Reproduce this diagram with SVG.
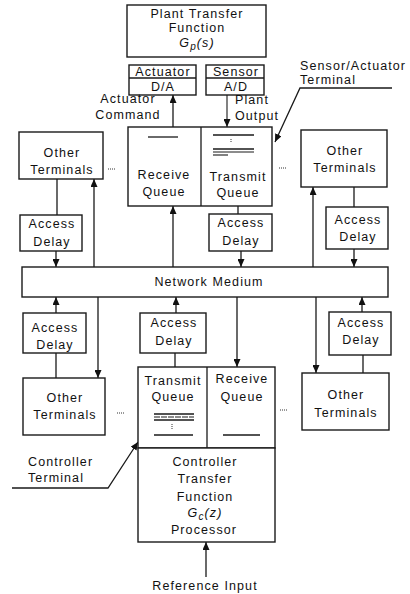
<svg xmlns="http://www.w3.org/2000/svg" width="410" height="594" viewBox="0 0 410 594">
<defs>
<style>
.box{fill:#fff;stroke:#1a1a1a;stroke-width:1.4}
.ln{fill:none;stroke:#1a1a1a;stroke-width:1.3}
.thin{fill:none;stroke:#1a1a1a;stroke-width:1.1}
.t{font-family:"Liberation Sans",Arial,Helvetica,sans-serif;font-size:12.5px;letter-spacing:1.1px;fill:#111;text-anchor:middle}
.s{text-anchor:start}
.dots{stroke:#333;stroke-width:1;stroke-dasharray:1 1}
</style>
<marker id="ah" viewBox="0 0 8 7" refX="8" refY="3.5" markerWidth="8" markerHeight="7" markerUnits="userSpaceOnUse" orient="auto">
<path d="M0,0 L8,3.5 L0,7 z" fill="#111"/>
</marker>
</defs>
<rect width="410" height="594" fill="#fff"/>

<g id="connectors">
<line class="ln" x1="173" y1="127" x2="173" y2="95" marker-end="url(#ah)"/>
<line class="thin" x1="227" y1="95" x2="227" y2="127" marker-end="url(#ah)"/>
<polyline class="ln" points="392,88 300,88 275,142" marker-end="url(#ah)"/>
<line class="ln" x1="57" y1="179" x2="57" y2="215"/>
<line class="ln" x1="56" y1="251" x2="56" y2="267" marker-end="url(#ah)"/>
<line class="ln" x1="94" y1="267" x2="94" y2="179" marker-end="url(#ah)"/>
<line class="ln" x1="238" y1="206" x2="238" y2="214"/>
<line class="ln" x1="241" y1="251" x2="241" y2="267" marker-end="url(#ah)"/>
<line class="ln" x1="173" y1="267" x2="173" y2="206" marker-end="url(#ah)"/>
<line class="ln" x1="354" y1="187" x2="354" y2="207"/>
<line class="ln" x1="354" y1="249" x2="354" y2="267" marker-end="url(#ah)"/>
<line class="ln" x1="313" y1="267" x2="313" y2="187" marker-end="url(#ah)"/>
<line class="ln" x1="56" y1="313" x2="56" y2="297" marker-end="url(#ah)"/>
<line class="ln" x1="56" y1="353" x2="56" y2="378"/>
<line class="ln" x1="98" y1="297" x2="98" y2="378" marker-end="url(#ah)"/>
<line class="ln" x1="176" y1="313" x2="176" y2="297" marker-end="url(#ah)"/>
<line class="ln" x1="175" y1="353" x2="175" y2="367"/>
<line class="ln" x1="237" y1="297" x2="237" y2="367" marker-end="url(#ah)"/>
<line class="ln" x1="362" y1="312" x2="362" y2="297" marker-end="url(#ah)"/>
<line class="ln" x1="363" y1="355" x2="363" y2="373"/>
<line class="ln" x1="316" y1="297" x2="316" y2="373" marker-end="url(#ah)"/>
<polyline class="thin" points="167,529 149,529 149,449" marker-end="url(#ah)"/>
<polyline class="thin" points="262,449 262,529 240,529" marker-end="url(#ah)"/>
<line class="ln" x1="206" y1="577" x2="206" y2="542" marker-end="url(#ah)"/>
<polyline class="ln" points="12,488 108,488 138,442" marker-end="url(#ah)"/>
<line class="dots" x1="108" y1="169" x2="116" y2="169"/>
<line class="dots" x1="279" y1="168" x2="287" y2="168"/>
<line class="dots" x1="117" y1="413" x2="125" y2="413"/>
<line class="dots" x1="280" y1="410" x2="288" y2="410"/>
</g>

<g id="plant">
<rect class="box" x="127" y="5" width="139" height="52"/>
<text class="t" x="197" y="18">Plant Transfer</text>
<text class="t" x="197" y="32">Function</text>
<text class="t" x="197" y="47" font-style="italic">G<tspan font-size="10" dy="3">p</tspan><tspan dy="-3">(s)</tspan></text>
</g>

<g id="actuator">
<rect class="box" x="129" y="65" width="67" height="30"/>
<line class="ln" x1="129" y1="78" x2="196" y2="78"/>
<text class="t" x="163" y="76">Actuator</text>
<text class="t" x="163" y="91">D/A</text>
</g>

<g id="sensor">
<rect class="box" x="206" y="65" width="58" height="30"/>
<line class="ln" x1="206" y1="78" x2="264" y2="78"/>
<text class="t" x="236" y="76">Sensor</text>
<text class="t" x="236" y="91">A/D</text>
</g>

<g id="labels">
<text class="t" x="128" y="103">Actuator</text>
<text class="t" x="128" y="119">Command</text>
<text class="t s" x="235" y="104">Plant</text>
<text class="t s" x="235" y="120">Output</text>
<text class="t s" x="300" y="70">Sensor/Actuator</text>
<text class="t s" x="300" y="84">Terminal</text>
<text class="t s" x="28" y="466">Controller</text>
<text class="t s" x="28" y="482">Terminal</text>
<text class="t" x="205" y="590">Reference Input</text>
</g>

<g id="sa-terminal">
<rect class="box" x="128" y="127" width="144" height="79"/>
<line class="ln" x1="201" y1="127" x2="201" y2="206"/>
<line class="ln" x1="148" y1="137" x2="178" y2="137"/>
<text class="t" x="164" y="179">Receive</text>
<text class="t" x="164" y="196">Queue</text>
<line class="ln" x1="213" y1="135" x2="254" y2="135"/>
<line class="dots" x1="231" y1="139" x2="231" y2="143"/>
<line class="ln" x1="213" y1="149" x2="254" y2="149"/>
<line class="thin" x1="213" y1="152" x2="254" y2="152"/>
<line class="thin" x1="213" y1="155" x2="228" y2="155"/>
<text class="t" x="238" y="181">Transmit</text>
<text class="t" x="238" y="197">Queue</text>
</g>

<g id="other-tl">
<rect class="box" x="19" y="132" width="84" height="47"/>
<text class="t" x="62" y="157">Other</text>
<text class="t" x="62" y="174">Terminals</text>
</g>
<g id="ad-tl">
<rect class="box" x="20" y="215" width="62" height="36"/>
<text class="t" x="52" y="228">Access</text>
<text class="t" x="52" y="246">Delay</text>
</g>
<g id="ad-tm">
<rect class="box" x="209" y="214" width="63" height="37"/>
<text class="t" x="241" y="227">Access</text>
<text class="t" x="241" y="245">Delay</text>
</g>
<g id="other-tr">
<rect class="box" x="301" y="130" width="86" height="57"/>
<text class="t" x="345" y="155">Other</text>
<text class="t" x="345" y="172">Terminals</text>
</g>
<g id="ad-tr">
<rect class="box" x="326" y="207" width="62" height="42"/>
<text class="t" x="358" y="224">Access</text>
<text class="t" x="358" y="241">Delay</text>
</g>

<g id="network">
<rect class="box" x="22" y="267" width="366" height="30"/>
<text class="t" x="209" y="286">Network Medium</text>
</g>

<g id="ad-bl">
<rect class="box" x="23" y="313" width="63" height="40"/>
<text class="t" x="55" y="332">Access</text>
<text class="t" x="55" y="349">Delay</text>
</g>
<g id="other-bl">
<rect class="box" x="23" y="378" width="82" height="57"/>
<text class="t" x="65" y="402">Other</text>
<text class="t" x="65" y="419">Terminals</text>
</g>
<g id="ad-bm">
<rect class="box" x="140" y="313" width="66" height="40"/>
<text class="t" x="174" y="327">Access</text>
<text class="t" x="174" y="345">Delay</text>
</g>
<g id="ad-br">
<rect class="box" x="329" y="312" width="62" height="43"/>
<text class="t" x="361" y="327">Access</text>
<text class="t" x="361" y="344">Delay</text>
</g>
<g id="other-br">
<rect class="box" x="302" y="373" width="87" height="57"/>
<text class="t" x="346" y="399">Other</text>
<text class="t" x="346" y="417">Terminals</text>
</g>

<g id="controller-terminal">
<rect class="box" x="138" y="367" width="137" height="81"/>
<line class="ln" x1="207" y1="367" x2="207" y2="448"/>
<text class="t" x="173" y="385">Transmit</text>
<text class="t" x="173" y="401">Queue</text>
<line class="ln" x1="154" y1="414" x2="194" y2="414"/>
<line class="thin" x1="154" y1="417" x2="194" y2="417" stroke-dasharray="6 1"/>
<line class="ln" x1="154" y1="420" x2="194" y2="420"/>
<line class="dots" x1="172" y1="424" x2="172" y2="429"/>
<line class="ln" x1="154" y1="435" x2="193" y2="435"/>
<text class="t" x="242" y="383">Receive</text>
<text class="t" x="242" y="401">Queue</text>
<line class="ln" x1="223" y1="435" x2="260" y2="435"/>
</g>

<g id="controller">
<rect class="box" x="138" y="448" width="137" height="94"/>
<text class="t" x="205" y="466">Controller</text>
<text class="t" x="205" y="483">Transfer</text>
<text class="t" x="205" y="501">Function</text>
<text class="t" x="205" y="517" font-style="italic">G<tspan font-size="10" dy="3">c</tspan><tspan dy="-3">(z)</tspan></text>
<text class="t" x="204" y="534">Processor</text>
</g>
</svg>
